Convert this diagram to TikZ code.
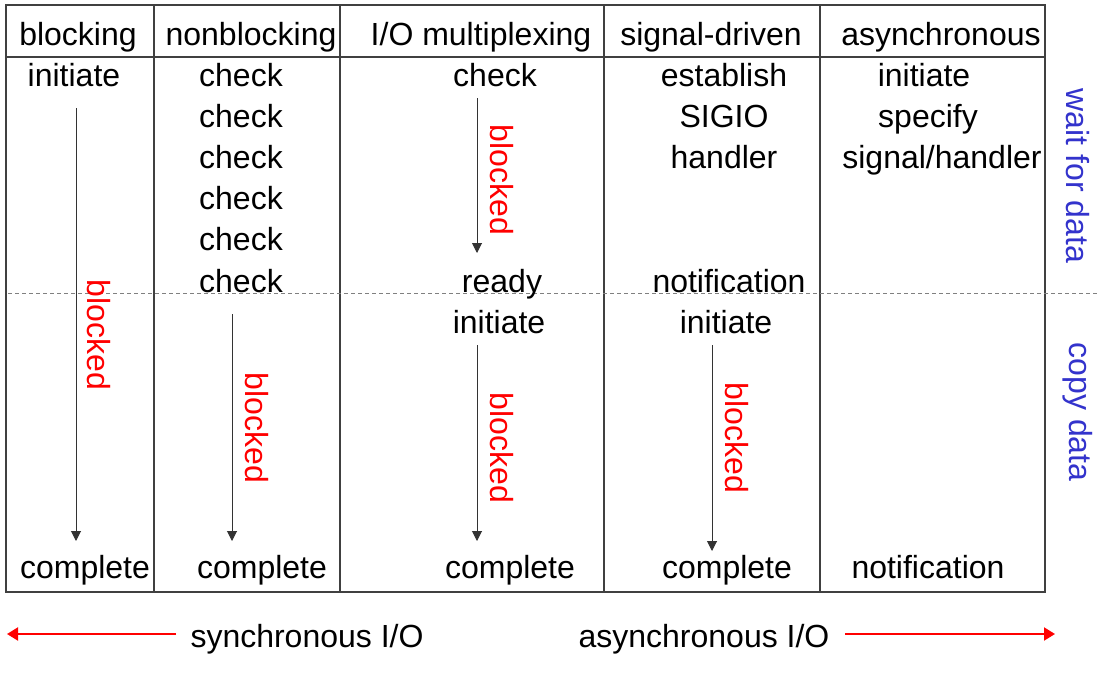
\documentclass[tikz,border=0pt]{standalone}
\usepackage{fontspec}
\setmainfont{Liberation Sans}
\usetikzlibrary{arrows.meta}
\definecolor{tblue}{RGB}{51,51,204}
\begin{document}
\begin{tikzpicture}[x=0.5pt,y=-0.5pt,
  txt/.style={font=\fontsize{16}{19}\selectfont, inner sep=0pt, anchor=base},
  blk/.style={font=\fontsize{16}{19}\selectfont, inner sep=0pt, text=red, rotate=-90},
  side/.style={font=\fontsize{16}{19}\selectfont, inner sep=0pt, text=tblue, rotate=-90},
  grid/.style={draw=black!75, line width=0.75pt},
  flow/.style={draw=black!80, line width=0.5pt, -{Triangle[length=5pt,width=5pt]}},
  sep/.style={draw=black!50, line width=0.5pt, dash pattern=on 2pt off 1.5pt},
  dir/.style={draw=red, line width=1pt, -{Triangle[length=5.5pt,width=6.5pt]}}]
\useasboundingbox (0,0) rectangle (1114,686);
% table
\draw[grid] (6,5) rectangle (1045,592);
\draw[grid] (6,57) -- (1045,57);
\foreach \cx in {154,340,604,820} \draw[grid] (\cx,5) -- (\cx,592);
\draw[sep] (8,293) -- (1100,293);
% headers
\node[txt] (h1) at (78,45) {blocking};
\node[txt] (h2) at (251,45) {nonblocking};
\node[txt] (h3) at (481,45) {I/O multiplexing};
\node[txt] (h4) at (711,45) {signal-driven};
\node[txt] (h5) at (941,45) {asynchronous};
% blocking
\node[txt] (b1) at (74,86) {initiate};
\node[txt] (b2) at (85,578) {complete};
% nonblocking
\node[txt] (n1) at (241,86) {check};
\node[txt] (n2) at (241,127) {check};
\node[txt] (n3) at (241,168) {check};
\node[txt] (n4) at (241,209) {check};
\node[txt] (n5) at (241,250.5) {check};
\node[txt] (n6) at (241,292) {check};
\node[txt] (n7) at (262,578) {complete};
% I/O multiplexing
\node[txt] (m1) at (495,86) {check};
\node[txt] (m2) at (502,292) {ready};
\node[txt] (m3) at (499,333) {initiate};
\node[txt] (m4) at (510,578) {complete};
% signal-driven
\node[txt] (s1) at (724,86) {establish};
\node[txt] (s2) at (724,127) {SIGIO};
\node[txt] (s3) at (724,168) {handler};
\node[txt] (s4) at (729,292) {notification};
\node[txt] (s5) at (726,333) {initiate};
\node[txt] (s6) at (727,578) {complete};
% asynchronous
\node[txt] (a1) at (924,86) {initiate};
\node[txt] (a2) at (928,127) {specify};
\node[txt] (a3) at (942,168) {signal/handler};
\node[txt] (a4) at (928,578) {notification};
% flow arrows
\coordinate (fb1) at (76,108);  \coordinate (fb2) at (76,541);
\coordinate (fn1) at (232,314); \coordinate (fn2) at (232,541);
\coordinate (fm1) at (477,98);  \coordinate (fm2) at (477,253);
\coordinate (fm3) at (477,345); \coordinate (fm4) at (477,541);
\coordinate (fs1) at (712,345); \coordinate (fs2) at (712,551);
\draw[flow] (fb1) -- (fb2);
\draw[flow] (fn1) -- (fn2);
\draw[flow] (fm1) -- (fm2);
\draw[flow] (fm3) -- (fm4);
\draw[flow] (fs1) -- (fs2);
% blocked labels
\node[blk] (k1) at (99,335) {blocked};
\node[blk] (k2) at (257,428) {blocked};
\node[blk] (k3) at (502,180) {blocked};
\node[blk] (k4) at (502,448) {blocked};
\node[blk] (k5) at (737,438) {blocked};
% side labels
\node[side] (w) at (1078,176) {wait for data};
\node[side] (c) at (1078,412) {copy data};
% bottom
\node[txt] (sy) at (307,647) {synchronous I/O};
\node[txt] (as) at (704,647) {asynchronous I/O};
\coordinate (l1) at (176,634); \coordinate (l2) at (7,634);
\coordinate (r1) at (845,634); \coordinate (r2) at (1055,634);
\draw[dir] (l1) -- (l2);
\draw[dir] (r1) -- (r2);
\end{tikzpicture}
\end{document}
